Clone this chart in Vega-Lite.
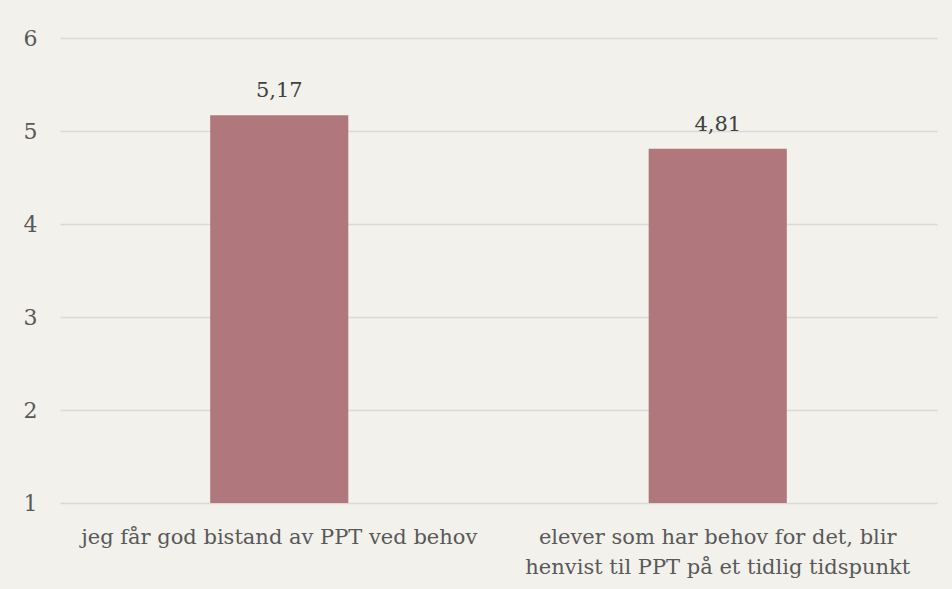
{
  "$schema": "https://vega.github.io/schema/vega-lite/v6.json",
  "width": 877,
  "height": 465,
  "autosize": {"type": "none"},
  "padding": {"left": 60, "top": 38, "right": 15, "bottom": 86},
  "background": "#f2f1ec",
  "config": {
    "locale": {"number": {"decimal": ",", "thousands": " ", "grouping": [3], "currency": ["", " kr"]}},
    "view": {"stroke": null},
    "font": "DejaVu Serif"
  },
  "data": {
    "values": [
      {"item": "jeg får god bistand av PPT ved behov", "value": 5.17},
      {"item": "elever som har behov for det, blir|henvist til PPT på et tidlig tidspunkt", "value": 4.81}
    ]
  },
  "encoding": {
    "x": {
      "field": "item", "type": "nominal", "sort": null,
      "scale": {"paddingInner": 0, "paddingOuter": 0},
      "axis": {
        "title": null, "labelAngle": 0, "domain": false, "ticks": false,
        "labelFont": "DejaVu Serif", "labelFontSize": 21, "labelColor": "#595959",
        "labelPadding": 40, "labelBaseline": "alphabetic", "labelLimit": 0, "labelLineHeight": 30,
        "labelExpr": "split(datum.value, '|')"
      }
    },
    "y": {
      "field": "value", "type": "quantitative",
      "scale": {"domain": [1, 6], "zero": false, "nice": false},
      "axis": {
        "title": null, "values": [1, 2, 3, 4, 5, 6], "domain": false, "ticks": false,
        "labelFont": "DejaVu Serif", "labelFontSize": 22, "labelColor": "#595959",
        "labelPadding": 23, "labelAlign": "right",
        "gridColor": "#d9d9d9", "gridWidth": 1.5
      }
    }
  },
  "layer": [
    {
      "mark": {"type": "bar", "color": "#b0787c", "width": {"band": 0.315}},
      "encoding": {"y2": {"datum": 1}}
    },
    {
      "mark": {"type": "text", "baseline": "alphabetic", "dy": -18, "font": "DejaVu Serif", "fontSize": 21, "color": "#404040"},
      "encoding": {"text": {"field": "value", "type": "quantitative", "format": ".2f"}}
    }
  ]
}
